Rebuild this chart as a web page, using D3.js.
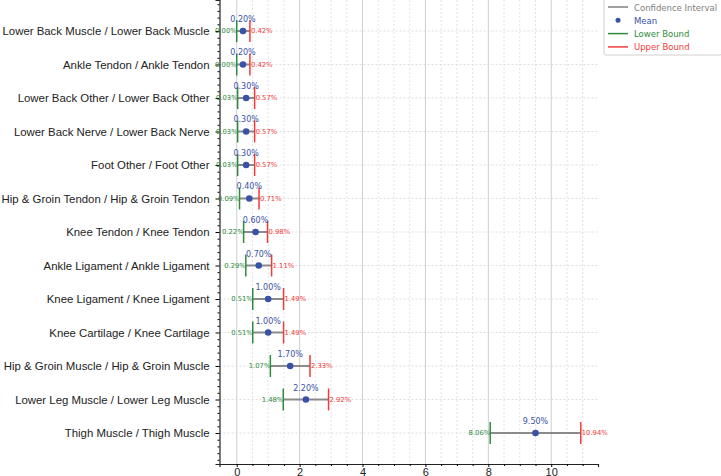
<!DOCTYPE html>
<html>
<head>
<meta charset="utf-8">
<script src="https://cdn.jsdelivr.net/npm/d3@7"></script>
<style>
  body { margin: 0; background: #fff; }
  svg { font-family: "DejaVu Sans", sans-serif; }
</style>
</head>
<body>
<svg id="chart" width="721" height="476"></svg>
<script>
var categories = [
  "Lower Back Muscle / Lower Back Muscle",
  "Ankle Tendon / Ankle Tendon",
  "Lower Back Other / Lower Back Other",
  "Lower Back Nerve / Lower Back Nerve",
  "Foot Other / Foot Other",
  "Hip & Groin Tendon / Hip & Groin Tendon",
  "Knee Tendon / Knee Tendon",
  "Ankle Ligament / Ankle Ligament",
  "Knee Ligament / Knee Ligament",
  "Knee Cartilage / Knee Cartilage",
  "Hip & Groin Muscle / Hip & Groin Muscle",
  "Lower Leg Muscle / Lower Leg Muscle",
  "Thigh Muscle / Thigh Muscle"
];
var means = [0.20, 0.20, 0.30, 0.30, 0.30, 0.40, 0.60, 0.70, 1.00, 1.00, 1.70, 2.20, 9.50];
var lower = [0.00, 0.00, 0.03, 0.03, 0.03, 0.09, 0.22, 0.29, 0.51, 0.51, 1.07, 1.48, 8.06];
var upper = [0.42, 0.42, 0.57, 0.57, 0.57, 0.71, 0.98, 1.11, 1.49, 1.49, 2.33, 2.92, 10.94];
var xTicks = [0, 2, 4, 6, 8, 10];

var legendItems = [
  { label: "Confidence Interval", color: "#808080", kind: "line" },
  { label: "Mean", color: "#3a52a6", kind: "dot" },
  { label: "Lower Bound", color: "#2e8b3e", kind: "line" },
  { label: "Upper Bound", color: "#f23a3a", kind: "line" }
];

var rows = categories.map((c, i) => ({ cat: c, i: i, mean: means[i], lo: lower[i], hi: upper[i] }));

var svg = d3.select("#chart");
var plotLeft = 219.5, plotRight = 598, plotTop = 0, plotBottom = 464;

var x = d3.scaleLinear()
          .domain([-0.547, 11.487])
          .range([plotLeft, plotRight]);

var y = d3.scaleLinear()
          .domain([-0.925, categories.length - 1 + 0.925])
          .range([plotTop, plotBottom]);

var blue = "#3a52a6", green = "#2e8b3e", red = "#f23a3a";

// grid
var grid = svg.append("g");
grid.selectAll(".minor")
    .data(d3.range(0.5, 11.5, 0.5).filter(v => v % 2 !== 0))
    .enter().append("line")
    .attr("x1", d => x(d)).attr("x2", d => x(d))
    .attr("y1", plotTop).attr("y2", plotBottom)
    .attr("stroke", "#dcdcdc").attr("stroke-width", 0.8)
    .attr("stroke-dasharray", "2,2");
grid.selectAll(".major")
    .data(xTicks)
    .enter().append("line")
    .attr("x1", d => x(d)).attr("x2", d => x(d))
    .attr("y1", plotTop).attr("y2", plotBottom)
    .attr("stroke", "#cfcfcf").attr("stroke-width", 1);
grid.selectAll(".hgrid")
    .data(rows)
    .enter().append("line")
    .attr("x1", plotLeft).attr("x2", plotRight)
    .attr("y1", d => y(d.i)).attr("y2", d => y(d.i))
    .attr("stroke", "#d6d6d6").attr("stroke-width", 0.8)
    .attr("stroke-dasharray", "2,2");

// axes
var xAxis = svg.append("g")
    .attr("transform", "translate(0," + plotBottom + ")")
    .call(d3.axisBottom(x).tickValues(xTicks).tickFormat(d3.format("d")).tickSize(3).tickPadding(1));
xAxis.select(".domain").attr("stroke", "#222").attr("stroke-width", 1.2);
xAxis.selectAll("text").attr("font-size", 11).attr("fill", "#222");
svg.append("g")
    .attr("transform", "translate(0," + plotBottom + ")")
    .call(d3.axisBottom(x).tickValues(d3.range(0, 11.5, 0.5).filter(v => v % 2 !== 0)).tickFormat("").tickSize(2))
    .call(g => g.select(".domain").remove());

var yAxis = svg.append("g")
    .attr("transform", "translate(" + plotLeft + ",0)")
    .call(d3.axisLeft(y).tickValues(rows.map(d => d.i)).tickFormat(i => categories[i]).tickSize(4).tickPadding(6));
yAxis.select(".domain").attr("stroke", "#222").attr("stroke-width", 1.2);
yAxis.selectAll("text").attr("font-size", 11.4).attr("fill", "#222");
svg.append("g")
    .attr("transform", "translate(" + plotLeft + ",0)")
    .call(d3.axisLeft(y).tickValues(d3.range(-0.8, 12.9, 0.2).filter(v => Math.abs(v - Math.round(v)) > 0.05)).tickFormat("").tickSize(2))
    .call(g => g.select(".domain").remove());

// intervals
var marks = svg.append("g").selectAll(".row").data(rows).enter().append("g");

marks.append("line")
     .attr("x1", d => x(d.lo)).attr("x2", d => x(d.hi))
     .attr("y1", d => y(d.i)).attr("y2", d => y(d.i))
     .attr("stroke", "#808080").attr("stroke-width", 2).attr("opacity", 0.9);

marks.append("line")
     .attr("x1", d => x(d.lo)).attr("x2", d => x(d.lo))
     .attr("y1", d => y(d.i) - 11).attr("y2", d => y(d.i) + 11)
     .attr("stroke", green).attr("stroke-width", 1.5);

marks.append("line")
     .attr("x1", d => x(d.hi)).attr("x2", d => x(d.hi))
     .attr("y1", d => y(d.i) - 11).attr("y2", d => y(d.i) + 11)
     .attr("stroke", red).attr("stroke-width", 1.5);

marks.append("circle")
     .attr("cx", d => x(d.mean)).attr("cy", d => y(d.i))
     .attr("r", 3.3).attr("fill", blue);

marks.append("text")
     .attr("x", d => x(d.mean)).attr("y", d => y(d.i) - 9)
     .attr("text-anchor", "middle").attr("font-size", 8).attr("fill", blue)
     .text(d => d.mean.toFixed(2) + "%");

marks.append("text")
     .attr("x", d => x(d.lo)).attr("y", d => y(d.i) + 2.3)
     .attr("text-anchor", "end").attr("font-size", 6.8).attr("fill", green)
     .text(d => d.lo.toFixed(2) + "%");

marks.append("text")
     .attr("x", d => x(d.hi) + 1).attr("y", d => y(d.i) + 2.3)
     .attr("text-anchor", "start").attr("font-size", 6.8).attr("fill", red)
     .text(d => d.hi.toFixed(2) + "%");

// legend
var legend = svg.append("g").attr("transform", "translate(604,-2)");
legend.append("rect")
      .attr("width", 118).attr("height", 57).attr("rx", 2)
      .attr("fill", "#fff").attr("stroke", "#d0d0d0");
var li = legend.selectAll(".legend-item")
      .data(legendItems)
      .enter().append("g")
      .attr("transform", (d, i) => "translate(0," + (9 + i * 13.3) + ")");
li.filter(d => d.kind === "line").append("line")
      .attr("x1", 4).attr("x2", 24).attr("y1", 0).attr("y2", 0)
      .attr("stroke", d => d.color).attr("stroke-width", 1.5);
li.filter(d => d.kind === "dot").append("circle")
      .attr("cx", 14).attr("cy", 0).attr("r", 2.5).attr("fill", d => d.color);
li.append("text")
      .attr("x", 30).attr("y", 3.5)
      .attr("font-size", 8.5).attr("fill", d => d.color)
      .text(d => d.label);
</script>
</body>
</html>
